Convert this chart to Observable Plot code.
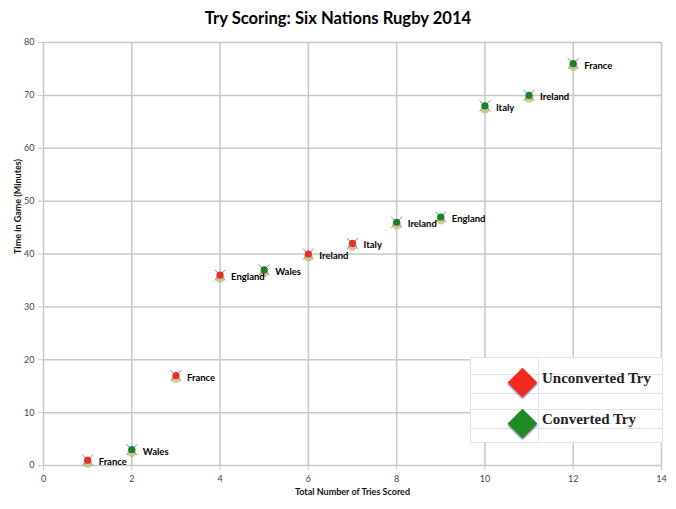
<!DOCTYPE html>
<html><head><meta charset="utf-8">
<script src="https://cdn.jsdelivr.net/npm/d3@7"></script>
<script src="https://cdn.jsdelivr.net/npm/@observablehq/plot@0.6"></script>
<style>
body{margin:0;background:#fff;width:676px;height:509px;overflow:hidden;position:relative;font-family:Lato,sans-serif}
#title{height:32px;line-height:37px;text-align:center;font-weight:bold;font-size:16.6px;color:#000}
#legend{position:absolute;left:470px;top:357px;width:193px;height:86px;background:#fff;border:1px solid #e2e2e2;box-sizing:border-box}
#legend .h{position:absolute;left:0;right:0;height:1px;background:#e2e2e2}
#legend .v{position:absolute;top:0;bottom:0;width:1px;background:#e2e2e2;left:67px}
#legend .d{position:absolute;width:21px;height:21px;transform:rotate(45deg);box-shadow:1px 1px 2px rgba(60,40,120,0.7)}
#legend .t{position:absolute;left:71px;font-family:"Liberation Serif","DejaVu Serif",serif;font-weight:bold;font-size:15px;color:#222;white-space:nowrap}
</style></head><body>
<div id="title">Try Scoring: Six Nations Rugby 2014</div>
<div id="chart"></div>
<div id="legend"></div>
<script>
const tries = [1, 2, 3, 4, 5, 6, 7, 8, 9, 10, 11, 12];
const minutes = [1, 3, 17, 36, 37, 40, 42, 46, 47, 68, 70, 76];
const teams = ["France", "Wales", "France", "England", "Wales", "Ireland", "Italy", "Ireland", "England", "Italy", "Ireland", "France"];
const converted = [false, true, false, false, true, false, false, true, true, true, true, true];
const xTicks = [0, 2, 4, 6, 8, 10, 12, 14];
const yTicks = [0, 10, 20, 30, 40, 50, 60, 70, 80];
const legendLabels = ["Unconverted Try", "Converted Try"];
const legendColors = ["#f2291c", "#1f8a22"];
const markerColors = ["#e5312a", "#1f7f2a"];
const xTitle = "Total Number of Tries Scored";
const yTitle = "Time in Game (Minutes)";

const data = tries.map((t, i) => ({tries: t, minutes: minutes[i], team: teams[i], converted: converted[i]}));
const grid = "#c8c8c8";

const chart = Plot.plot({
  width: 676,
  height: 477,
  marginLeft: 43,
  marginRight: 15,
  marginTop: 10,
  marginBottom: 44,
  style: {fontFamily: "Lato, sans-serif", fontSize: "9px", overflow: "visible", background: "#fff"},
  x: {domain: [0, 14], ticks: xTicks},
  y: {domain: [0, 80], ticks: yTicks},
  marks: [
    Plot.ruleX(xTicks, {stroke: grid, strokeWidth: 1.5}),
    Plot.ruleY(yTicks, {stroke: grid, strokeWidth: 1.5}),
    Plot.axisX({ticks: xTicks, tickSize: 5, tickPadding: 5, stroke: grid, fill: "#444", label: null}),
    Plot.axisY({ticks: yTicks, tickSize: 5, tickPadding: 4, stroke: grid, fill: "#444", label: null}),
    Plot.text([xTitle], {frameAnchor: "bottom", dy: 29, fontWeight: "bold", fontSize: 9, fill: "#111"}),
    Plot.text([yTitle], {frameAnchor: "left", dx: -25, rotate: -90, fontWeight: "bold", fontSize: 9, fill: "#111"}),
    Plot.dot(data, {x: "tries", y: "minutes", dy: 3, r: 4.5, fill: "#c9be84", fillOpacity: 0.85}),
    Plot.dot(data, {x: "tries", y: "minutes", symbol: "times", r: 5, stroke: "#7a90a8", strokeWidth: 1}),
    Plot.dot(data, {x: "tries", y: "minutes", r: 3.6, fill: d => d.converted ? markerColors[1] : markerColors[0]}),
    Plot.text(data, {x: "tries", y: "minutes", text: "team", textAnchor: "start", dx: 11, dy: 2, fontWeight: "bold", fontSize: 9.5, fill: "#000"})
  ]
});
document.getElementById("chart").appendChild(chart);

const lg = document.getElementById("legend");
[16, 35, 51, 70].forEach(y => { const h = document.createElement("div"); h.className = "h"; h.style.top = y + "px"; lg.appendChild(h); });
const v = document.createElement("div"); v.className = "v"; lg.appendChild(v);
const centers = [24, 65];
legendLabels.forEach((lab, i) => {
  const d = document.createElement("div"); d.className = "d";
  d.style.background = legendColors[i];
  d.style.left = (51 - 10.5) + "px"; d.style.top = (centers[i] - 10.5) + "px";
  lg.appendChild(d);
  const t = document.createElement("div"); t.className = "t";
  t.textContent = lab; t.style.top = (centers[i] - 12) + "px";
  lg.appendChild(t);
});
</script>
</body></html>
